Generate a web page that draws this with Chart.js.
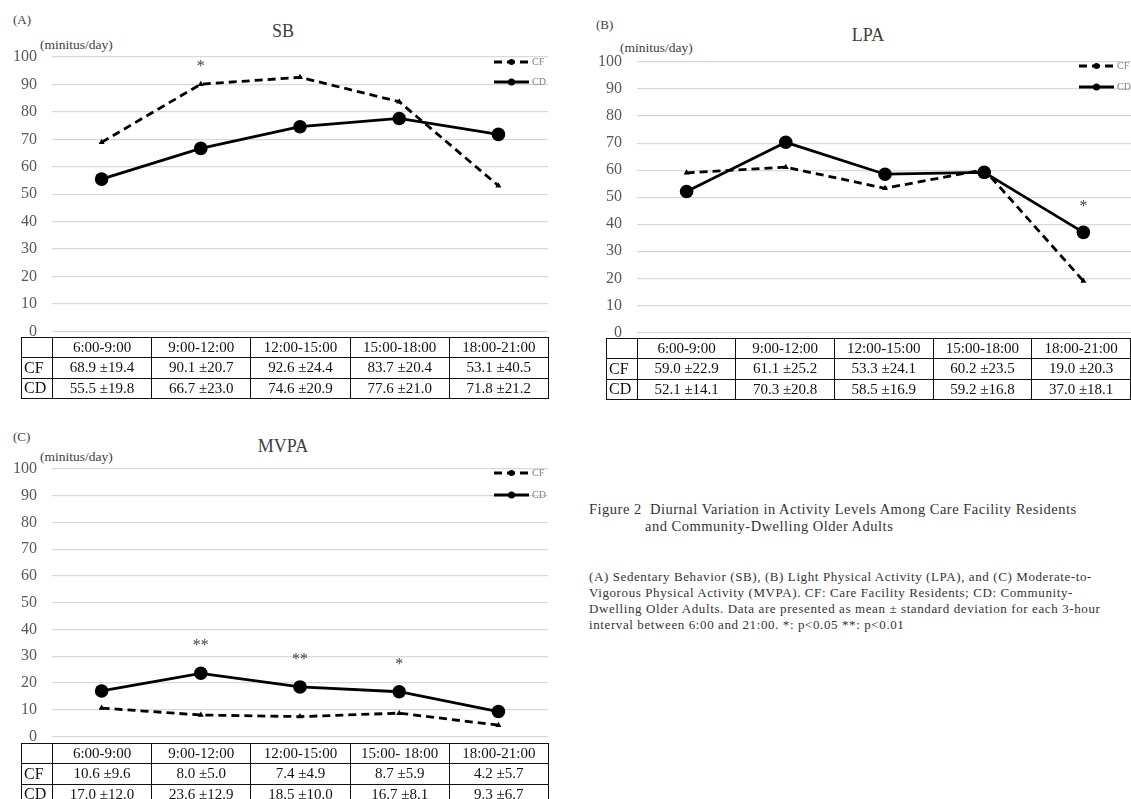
<!DOCTYPE html>
<html>
<head>
<meta charset="utf-8">
<script src="https://cdn.jsdelivr.net/npm/chart.js@4.4.1/dist/chart.umd.min.js"></script>
<style>
  html, body { margin: 0; padding: 0; background: #fff; overflow: hidden; width: 1131px; height: 799px; }
  body { position: relative; font-family: "Times New Roman", "Liberation Serif", serif; }
  canvas { position: absolute; }
  .t { position: absolute; white-space: nowrap; color: #404040; }
  table.dt { position: absolute; border-collapse: collapse; table-layout: fixed; color: #111; font-size: 15px; }
  table.dt td { border: 1.4px solid #111; padding: 0; text-align: center; overflow: hidden; white-space: nowrap; }
  table.dt td.rl { text-align: left; padding-left: 2px; font-size: 16px; }
  .cap { position: absolute; white-space: nowrap; color: #333; }
</style>
</head>
<body>

<div class="t" style="left:13px;top:12px;font-size:13px;">(A)</div>
<div class="t" style="left:283px;top:21px;font-size:18px;transform:translateX(-50%);">SB</div>
<div class="t" style="left:40px;top:37px;font-size:13.5px;">(minitus/day)</div>
<canvas id="cA" width="560" height="356" style="left:0;top:0;"></canvas>
<table class="dt" id="tA" style="left:21px;top:337px;"></table>

<div class="t" style="left:596px;top:17px;font-size:13px;">(B)</div>
<div class="t" style="left:868px;top:25px;font-size:18px;transform:translateX(-50%);">LPA</div>
<div class="t" style="left:620px;top:40px;font-size:13.5px;">(minitus/day)</div>
<canvas id="cB" width="560" height="357" style="left:585px;top:0;"></canvas>
<table class="dt" id="tB" style="left:606px;top:338px;"></table>

<div class="t" style="left:13px;top:429px;font-size:13px;">(C)</div>
<div class="t" style="left:283px;top:436px;font-size:18px;transform:translateX(-50%);">MVPA</div>
<div class="t" style="left:40px;top:449px;font-size:13.5px;">(minitus/day)</div>
<canvas id="cC" width="560" height="351" style="left:0;top:410px;"></canvas>
<table class="dt" id="tC" style="left:21px;top:743px;"></table>

<div class="cap" style="left:589px;top:501px;font-size:14.5px;letter-spacing:0.5px;">Figure 2&nbsp; Diurnal Variation in Activity Levels Among Care Facility Residents</div>
<div class="cap" style="left:645px;top:518px;font-size:14.5px;letter-spacing:0.5px;">and Community-Dwelling Older Adults</div>
<div class="cap" style="left:589px;top:569px;font-size:13px;letter-spacing:0.6px;line-height:16px;">
(A) Sedentary Behavior (SB), (B) Light Physical Activity (LPA), and (C) Moderate-to-<br>
Vigorous Physical Activity (MVPA). CF: Care Facility Residents; CD: Community-<br>
Dwelling Older Adults. Data are presented as mean ± standard deviation for each 3-hour<br>
interval between 6:00 and 21:00. *: p&lt;0.05 **: p&lt;0.01
</div>

<script>
// Time windows (x categories) and the table headers
const periods = ['6:00-9:00', '9:00-12:00', '12:00-15:00', '15:00-18:00', '18:00-21:00'];
const mvpaHeads = ['6:00-9:00', '9:00-12:00', '12:00-15:00', '15:00- 18:00', '18:00-21:00'];
const groups = ['CF', 'CD'];

// Sedentary behaviour (minutes/day): mean and SD
const sbCF = [68.9, 90.1, 92.6, 83.7, 53.1];
const sbCFsd = [19.4, 20.7, 24.4, 20.4, 40.5];
const sbCD = [55.5, 66.7, 74.6, 77.6, 71.8];
const sbCDsd = [19.8, 23.0, 20.9, 21.0, 21.2];
const sbMarks = ['', '*', '', '', ''];

// Light physical activity
const lpaCF = [59.0, 61.1, 53.3, 60.2, 19.0];
const lpaCFsd = [22.9, 25.2, 24.1, 23.5, 20.3];
const lpaCD = [52.1, 70.3, 58.5, 59.2, 37.0];
const lpaCDsd = [14.1, 20.8, 16.9, 16.8, 18.1];
const lpaMarks = ['', '', '', '', '*'];

// Moderate-to-vigorous physical activity
const mvpaCF = [10.6, 8.0, 7.4, 8.7, 4.2];
const mvpaCFsd = [9.6, 5.0, 4.9, 5.9, 5.7];
const mvpaCD = [17.0, 23.6, 18.5, 16.7, 9.3];
const mvpaCDsd = [12.0, 12.9, 10.0, 8.1, 6.7];
const mvpaMarks = ['', '**', '**', '*', ''];

// y axis range
const yMin = 0, yMax = 100, yStep = 10;

const SERIF = '"Times New Roman", "Liberation Serif", serif';

// Small legend drawn inside the plot, top right
const cornerLegend = {
  id: 'cornerLegend',
  afterDraw(chart, args, opts) {
    const { ctx, chartArea } = chart;
    chart.data.datasets.forEach((ds, i) => {
      const y = chartArea.top + opts.rows[i];
      const x0 = chartArea.right - opts.from;
      const x1 = chartArea.right - opts.to;
      ctx.save();
      ctx.strokeStyle = ds.borderColor;
      ctx.lineWidth = 3;
      ctx.setLineDash(ds.borderDash || []);
      ctx.beginPath(); ctx.moveTo(x0, y); ctx.lineTo(x1, y); ctx.stroke();
      ctx.setLineDash([]);
      ctx.fillStyle = ds.borderColor;
      ctx.beginPath(); ctx.arc((x0 + x1) / 2, y, i === 0 ? 3 : 3.5, 0, Math.PI * 2); ctx.fill();
      ctx.fillStyle = '#808080';
      ctx.font = '10px ' + SERIF;
      ctx.textBaseline = 'middle';
      ctx.textAlign = 'left';
      ctx.fillText(ds.label, x1 + 3, y + 0.5);
      ctx.restore();
    });
  }
};

// Significance asterisks above each time window
const sigMarks = {
  id: 'sigMarks',
  afterDatasetsDraw(chart, args, opts) {
    const { ctx } = chart;
    ctx.save();
    ctx.fillStyle = '#404040';
    ctx.font = '16px ' + SERIF;
    ctx.textAlign = 'center';
    ctx.textBaseline = 'alphabetic';
    opts.marks.forEach((m, i) => {
      if (!m) return;
      const x = chart.scales.x.getPixelForValue(i);
      const top = Math.min(...chart.data.datasets.map((d, k) => chart.getDatasetMeta(k).data[i].y));
      ctx.fillText(m, x, top - opts.gap + 8);
    });
    ctx.restore();
  }
};

function makeChart(id, cf, cd, marks, top, gap, legendRows) {
  return new Chart(document.getElementById(id), {
    type: 'line',
    data: {
      labels: periods,
      datasets: [
        { label: groups[0], data: cf, borderColor: '#000', backgroundColor: '#000',
          borderWidth: 2.8, borderDash: [8, 5], pointStyle: 'triangle', pointRadius: 3.5,
          pointBorderWidth: 0, tension: 0 },
        { label: groups[1], data: cd, borderColor: '#000', backgroundColor: '#000',
          borderWidth: 2.8, pointStyle: 'circle', pointRadius: 6.8,
          pointBorderWidth: 0, tension: 0 }
      ]
    },
    options: {
      responsive: false,
      animation: false,
      events: [],
      layout: { padding: { top: top, bottom: 14, left: 0, right: 12 } },
      plugins: {
        legend: { display: false },
        tooltip: { enabled: false },
        cornerLegend: { rows: legendRows, from: 54, to: 19 },
        sigMarks: { marks: marks, gap: gap }
      },
      scales: {
        x: { display: false, offset: true },
        y: {
          min: yMin, max: yMax,
          ticks: { stepSize: yStep, color: '#595959', padding: 15,
                   font: { family: SERIF, size: 16 } },
          grid: { color: '#d9d9d9', lineWidth: 1.2, drawTicks: false },
          border: { display: false },
          afterFit(s) { s.width = 52; }
        }
      }
    },
    plugins: [cornerLegend, sigMarks]
  });
}

makeChart('cA', sbCF, sbCD, sbMarks, 57, 21, [5, 25]);
makeChart('cB', lpaCF, lpaCD, lpaMarks, 62, 29, [4, 25]);
makeChart('cC', mvpaCF, mvpaCD, mvpaMarks, 59, 31, [4, 26]);

// Data tables under each plot: mean ± SD
function fillTable(id, heads, cf, cfsd, cd, cdsd) {
  const t = document.getElementById(id);
  let html = '<colgroup><col style="width:31px">' +
    heads.map(() => '<col style="width:99.2px">').join('') + '</colgroup>';
  html += '<tr style="height:20px"><td style="border-top:1.4px solid #111;border-left:1.4px solid #111"></td>' +
    heads.map(p => '<td>' + p + '</td>').join('') + '</tr>';
  const rows = [[groups[0], cf, cfsd], [groups[1], cd, cdsd]];
  rows.forEach(([g, m, sd]) => {
    html += '<tr style="height:20.5px"><td class="rl">' + g + '</td>' +
      m.map((v, i) => '<td>' + v.toFixed(1) + ' \u00b1' + sd[i].toFixed(1) + '</td>').join('') + '</tr>';
  });
  t.innerHTML = html;
}
fillTable('tA', periods, sbCF, sbCFsd, sbCD, sbCDsd);
fillTable('tB', periods, lpaCF, lpaCFsd, lpaCD, lpaCDsd);
fillTable('tC', mvpaHeads, mvpaCF, mvpaCFsd, mvpaCD, mvpaCDsd);
</script>
</body>
</html>
